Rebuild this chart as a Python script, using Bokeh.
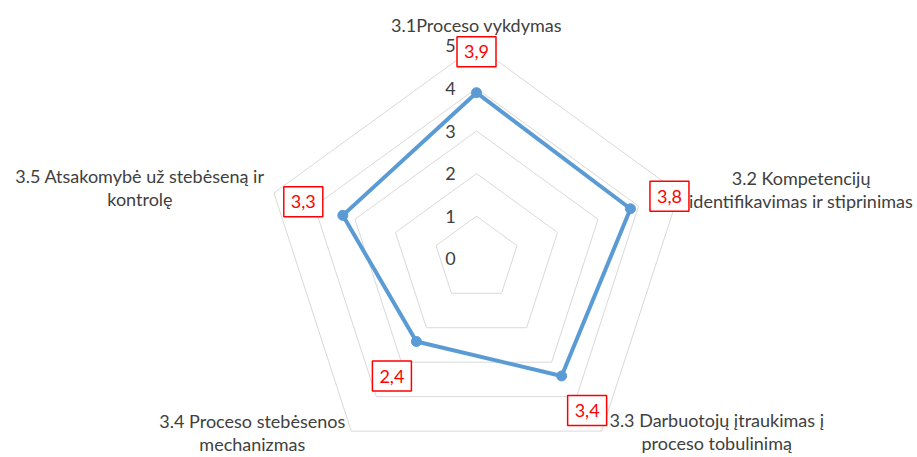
import numpy as np
from bokeh.plotting import figure
from bokeh.models import Range1d
from bokeh.embed import file_html
from bokeh.resources import INLINE
from bokeh.core.properties import value

# ---------------- data ----------------
categories = [
    "3.1Proceso vykdymas",
    "3.2 Kompetencijų\nidentifikavimas ir stiprinimas",
    "3.3 Darbuotojų įtraukimas į\nproceso tobulinimą",
    "3.4 Proceso stebėsenos\nmechanizmas",
    "3.5 Atsakomybė už stebėseną ir\nkontrolę",
]
scores = [3.9, 3.8, 3.4, 2.4, 3.3]
score_labels = ["3,9", "3,8", "3,4", "2,4", "3,3"]
ticks = [0, 1, 2, 3, 4, 5]
tick_labels = ["0", "1", "2", "3", "4", "5"]

# ---------------- layout / style ----------------
W, H = 917, 457
UNIT = 42.6            # px per score unit
CX, CY = 476.0, 258.3  # radar centre in canvas px
FONT = "Lato"
FS = "18px"
TXT = "#404040"
GRID = "#D9D9D9"
BLUE = "#5B9BD5"
RED = "#FF0000"
LINE_H = 23.0

# pixel offsets (x right, y down)
cat_off = [(0, -21), (122, -3.5), (115, 0), (-99, 1), (-134, -5)]
val_off = [(0, -41), (39, -12.5), (25.5, 34.5), (-24.5, 34.5), (-39.5, -13.5)]

N = len(categories)
theta = np.pi / 2 - 2 * np.pi * np.arange(N) / N
rmax = max(ticks)

p = figure(width=W, height=H, output_backend="svg", toolbar_location=None,
           x_range=Range1d(-CX / UNIT, (W - CX) / UNIT),
           y_range=Range1d(-(H - CY) / UNIT, CY / UNIT),
           min_border=0)
p.axis.visible = False
p.grid.visible = False
p.outline_line_color = None
p.background_fill_color = "white"
p.border_fill_color = "white"

# grid pentagons
gx, gy = [], []
for k in ticks[1:]:
    xs = list(k * np.cos(theta)) + [k * np.cos(theta[0])]
    ys = list(k * np.sin(theta)) + [k * np.sin(theta[0])]
    gx.append(xs)
    gy.append(ys)
p.multi_line(gx, gy, line_color=GRID, line_width=1)

# series
sx = np.array(scores) * np.cos(theta)
sy = np.array(scores) * np.sin(theta)
p.line(list(sx) + [sx[0]], list(sy) + [sy[0]], line_color=BLUE, line_width=4,
       line_join="round")
p.scatter(sx, sy, size=10, fill_color=BLUE, line_color=BLUE)

# value labels with red boxes
vx = sx + np.array([o[0] for o in val_off]) / UNIT
vy = sy - np.array([o[1] for o in val_off]) / UNIT
p.rect(vx, vy, width=39, height=30, width_units="screen", height_units="screen",
       fill_color="white", line_color=RED, line_width=1.5)
p.text(vx, vy, text=score_labels, text_color=RED, text_font=value(FONT),
       text_font_size=FS, text_align="center", text_baseline="middle")

# tick labels
p.text([0] * len(ticks), ticks, text=tick_labels, x_offset=-26,
       text_color=TXT, text_font=value(FONT), text_font_size=FS,
       text_align="center", text_baseline="middle")

# category labels (split lines)
lx, ly, lt = [], [], []
for i, cat in enumerate(categories):
    lines = cat.split("\n")
    bx = rmax * np.cos(theta[i]) + cat_off[i][0] / UNIT
    by = rmax * np.sin(theta[i]) - cat_off[i][1] / UNIT
    n = len(lines)
    for j, ln in enumerate(lines):
        lx.append(bx)
        ly.append(by - (j - (n - 1) / 2) * LINE_H / UNIT)
        lt.append(ln)
p.text(lx, ly, text=lt, text_color=TXT, text_font=value(FONT), text_font_size=FS,
       text_align="center", text_baseline="middle")

open("out.html", "w").write(file_html(p, INLINE))
